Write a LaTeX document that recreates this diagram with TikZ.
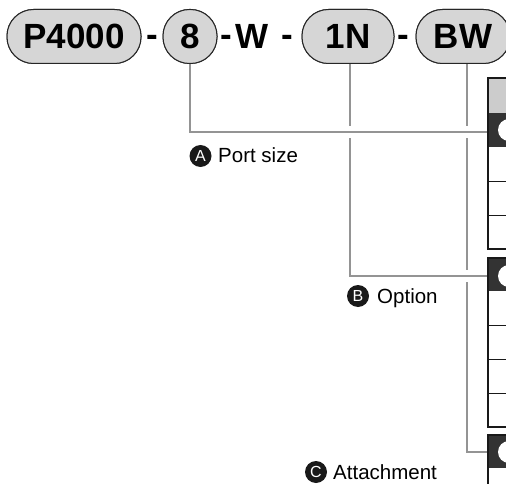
\documentclass[tikz,border=0pt]{standalone}
\usepackage{fontspec}
\setmainfont{Liberation Sans}
\begin{document}
\begin{tikzpicture}[x=1pt,y=-1pt,
  pill/.style={draw=black!85, line width=1pt, fill=black!16, rounded corners=26.5pt, minimum height=54pt, inner sep=0pt, font=\fontsize{35}{40}\selectfont\bfseries, text height=25pt, text depth=0pt},
  dashsym/.style={font=\fontsize{35}{40}\selectfont\bfseries, inner sep=0pt, text height=25pt, text depth=0pt},
  conn/.style={draw=black!42, line width=2pt},
  halo/.style={preaction={draw=white, line width=12pt}},
  badge/.style={circle, fill=black!90, text=white, minimum size=22pt, inner sep=0pt, font=\fontsize{16}{16}\selectfont},
  lbl/.style={anchor=base west, inner sep=0pt, font=\fontsize{20.5}{24}\selectfont},
  frame/.style={draw=black!90, line width=2.6pt},
  sep/.style={draw=black!90, line width=1pt},
  darkrow/.style={fill=black!80},
  headrow/.style={fill=black!20},
]
\clip (0,0) rectangle (506,484);
\fill[white] (0,0) rectangle (506,484);

% coordinates on the tables
\coordinate (t1in) at (488,132);
\coordinate (t2in) at (488,276);
\coordinate (t3in) at (488,452);

% pill positions (nodes drawn later, defined now via coordinates)
\path (74,36.5) node[pill, minimum width=134pt] (p) {P4000};
\path (190,36.5) node[pill, minimum width=54pt] (s) {8};
\path (348,36.5) node[pill, minimum width=92pt] (n) {1N};
\path (463,36.5) node[pill, minimum width=94pt] (bw) {BW};

% connectors
\draw[conn] ([xshift=4pt]bw.south) -- ([xshift=4pt]bw.south |- t3in) -- (t3in);
\draw[conn, halo] ([xshift=2pt]n.south) |- (t2in);
\draw[conn, halo] (s.south) |- (t1in);

% redraw pills on top
\node[pill, minimum width=134pt] at (p) {P4000};
\node[pill, minimum width=54pt] at (s) {8};
\node[pill, minimum width=92pt] at (n) {1N};
\node[pill, minimum width=94pt] at (bw) {BW};

\node[dashsym] (d1) at (152.5,34) {-};
\node[dashsym] (d2) at (226.5,34) {-};
\node[dashsym] (w) at (252.5,36.5) {W};
\node[dashsym] (d3) at (287.5,34) {-};
\node[dashsym] (d4) at (403.5,34) {-};

% table 1
\path[headrow] (488,78) rectangle (520,113);
\path[darkrow] (488,113) rectangle (520,147);
\fill[white] (509,130) circle (11);
\draw[sep] (488,181) -- (520,181);
\draw[sep] (488,215) -- (520,215);
\draw[frame] (488,78) rectangle (520,249);

% table 2
\path[darkrow] (488,258) rectangle (520,291);
\fill[white] (509,276) circle (11);
\draw[sep] (488,325) -- (520,325);
\draw[sep] (488,359) -- (520,359);
\draw[sep] (488,393) -- (520,393);
\draw[frame] (488,258) rectangle (520,427);

% table 3
\path[darkrow] (488,435) rectangle (520,468);
\fill[white] (509,452) circle (11);
\draw[frame] (488,435) rectangle (520,500);

% labels
\node[badge] (ba) at (200.5,156) {A};
\node[lbl] (la) at (218,163) {Port size};
\node[badge] (bb) at (358,296) {B};
\node[lbl] (lb) at (377,303) {Option};
\node[badge] (bc) at (316,472) {C};
\node[lbl] (lc) at (333,479) {Attachment};
\end{tikzpicture}
\end{document}
